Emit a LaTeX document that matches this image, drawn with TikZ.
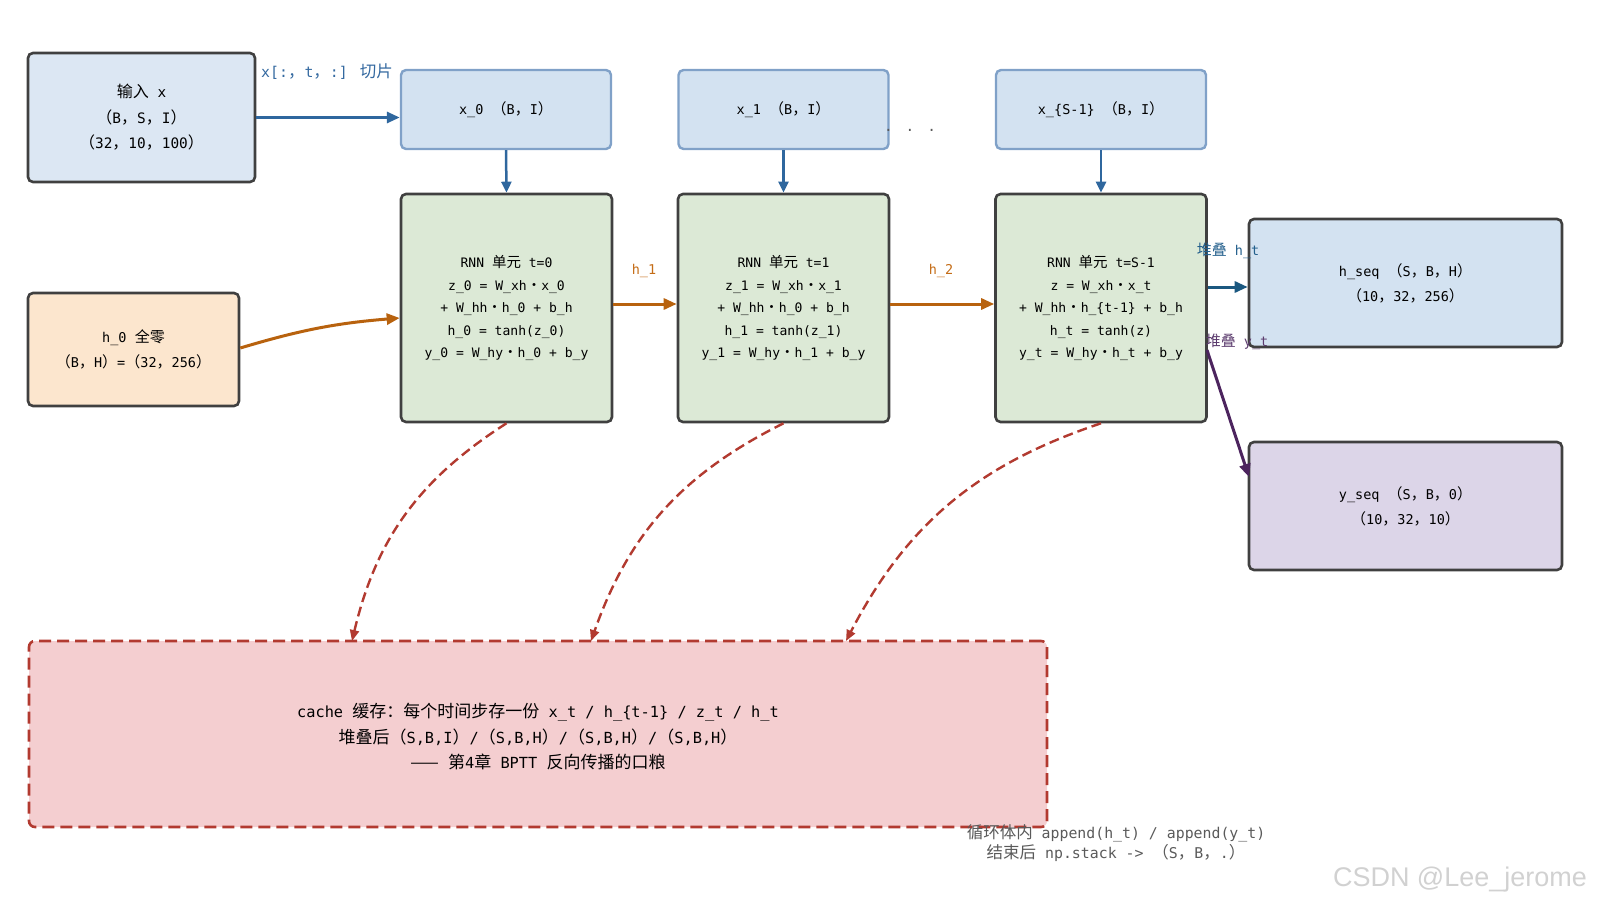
\documentclass[tikz,border=0pt]{standalone}
\usepackage{fontspec}
\setmainfont{DejaVu Sans Mono}[Scale=0.9]
\newfontfamily\cjkf{Noto Sans CJK SC}
\newfontfamily\wmfont{Liberation Sans}
\newcommand\cj[1]{{\cjkf #1}}
\newcommand\FLp{\cj{（}}
\newcommand\FRp{\cj{）}}
\newcommand\FCm{\cj{，}}
\newcommand\Dotm{\cj{・}}
\usetikzlibrary{arrows.meta}
\definecolor{inpfill}{RGB}{220,231,243}
\definecolor{xfill}{RGB}{211,226,241}
\definecolor{xdraw}{RGB}{128,161,200}
\definecolor{rnnfill}{RGB}{220,233,214}
\definecolor{hzfill}{RGB}{252,230,206}
\definecolor{hseqfill}{RGB}{211,226,241}
\definecolor{yseqfill}{RGB}{220,213,232}
\definecolor{cachefill}{RGB}{244,206,208}
\definecolor{cachedraw}{RGB}{178,58,48}
\definecolor{darkbd}{RGB}{64,64,64}
\definecolor{blueA}{RGB}{47,103,158}
\definecolor{orangeA}{RGB}{184,98,14}
\definecolor{navyA}{RGB}{27,88,128}
\definecolor{purpA}{RGB}{76,36,94}
\definecolor{bluetxt}{RGB}{52,105,160}
\definecolor{orangetxt}{RGB}{196,108,22}
\definecolor{navytxt}{RGB}{35,95,140}
\definecolor{purptxt}{RGB}{92,60,110}
\definecolor{notegray}{RGB}{90,90,90}
\begin{document}
\begin{tikzpicture}[x=1pt,y=-1pt,
  box/.style={rectangle, rounded corners=5pt, line width=2.6pt, draw=darkbd, align=center, inner sep=0pt},
  xbox/.style={rectangle, rounded corners=5pt, line width=2.4pt, draw=xdraw, fill=xfill, align=center, inner sep=0pt, minimum width=210pt, minimum height=79pt, font=\fontsize{15}{20}\selectfont},
  rnnbox/.style={box, fill=rnnfill, minimum width=211pt, minimum height=228pt, font=\fontsize{14.5}{22.5}\selectfont},
  arr/.style={line width=3pt, -{Triangle[length=13pt,width=11pt]}},
  varr/.style={line width=2.5pt, -{Triangle[length=11pt,width=10pt]}},
  dasharr/.style={line width=2.4pt, draw=cachedraw, dash pattern=on 10pt off 5pt, -{Triangle[length=11pt,width=9pt]}},
  lbl/.style={font=\fontsize{15}{16}\selectfont, inner sep=0pt}
]
\useasboundingbox (0,0) rectangle (1599,907);

% input
\node[box, fill=inpfill, minimum width=227pt, minimum height=129pt, font=\fontsize{16}{25.5}\selectfont] (inp) at (141.5,117.5)
  {\cj{输入} x\\\FLp B\FCm S\FCm I\FRp\\\FLp 32\FCm 10\FCm 100\FRp};

% x slices
\node[xbox] (x0) at (506,109.5) {x\_0 \FLp B\FCm I\FRp};
\node[xbox] (x1) at (783.5,109.5) {x\_1 \FLp B\FCm I\FRp};
\node[xbox] (xs) at (1101,109.5) {x\_\{S-1\} \FLp B\FCm I\FRp};

% rnn cells
\node[rnnbox] (r0) at (506.5,308)
  {RNN \cj{单元} t=0\\z\_0 = W\_xh\Dotm x\_0\\+ W\_hh\Dotm h\_0 + b\_h\\h\_0 = tanh(z\_0)\\y\_0 = W\_hy\Dotm h\_0 + b\_y};
\node[rnnbox] (r1) at (783.5,308)
  {RNN \cj{单元} t=1\\z\_1 = W\_xh\Dotm x\_1\\+ W\_hh\Dotm h\_0 + b\_h\\h\_1 = tanh(z\_1)\\y\_1 = W\_hy\Dotm h\_1 + b\_y};
\node[rnnbox] (rs) at (1101,308)
  {RNN \cj{单元} t=S-1\\z = W\_xh\Dotm x\_t\\+ W\_hh\Dotm h\_\{t-1\} + b\_h\\h\_t = tanh(z)\\y\_t = W\_hy\Dotm h\_t + b\_y};

% h0
\node[box, fill=hzfill, minimum width=211pt, minimum height=113pt, font=\fontsize{15}{25}\selectfont] (h0) at (133.5,349.5)
  {h\_0 \cj{全零}\\\FLp B\FCm H\FRp=\FLp 32\FCm 256\FRp};

% outputs
\node[box, fill=hseqfill, minimum width=313pt, minimum height=128pt, font=\fontsize{15}{25}\selectfont] (hseq) at (1405.5,283)
  {h\_seq \FLp S\FCm B\FCm H\FRp\\\FLp 10\FCm 32\FCm 256\FRp};
\node[box, fill=yseqfill, minimum width=313pt, minimum height=128pt, font=\fontsize{15}{25}\selectfont] (yseq) at (1405.5,506)
  {y\_seq \FLp S\FCm B\FCm 0\FRp\\\FLp 10\FCm 32\FCm 10\FRp};

% cache
\node[rectangle, rounded corners=6pt, line width=2.6pt, draw=cachedraw, dash pattern=on 12pt off 6pt, fill=cachefill,
  minimum width=1018pt, minimum height=186pt] (cache) at (538,734) {};
\node[align=center, font=\fontsize{17}{25.5}\selectfont, inner sep=0pt] (cachetxt) at (538,737)
  {cache \cj{缓存：每个时间步存一份} x\_t / h\_\{t-1\} / z\_t / h\_t\\
   \cj{堆叠后}\FLp S,B,I\FRp/\FLp S,B,H\FRp/\FLp S,B,H\FRp/\FLp S,B,H\FRp\\
   \cj{——} \cj{第}4\cj{章} BPTT \cj{反向传播的口粮}};

% dots
\node[font=\fontsize{16}{16}\selectfont, text=notegray, anchor=base] (dots) at (910,131) {.\hspace{13pt}.\hspace{13pt}.};

% connectors
\draw[arr, draw=blueA] (inp.east) -- (inp.east -| x0.west);
\node[lbl, text=bluetxt, anchor=west, font=\fontsize{16.5}{18}\selectfont] (slbl) at (261,72) {x[:\FCm t\FCm :] \cj{切片}};

\draw[varr, draw=blueA] (x0.south) -- (r0.north);
\draw[varr, draw=blueA] (x1.south) -- (r1.north);
\draw[varr, draw=blueA] (xs.south) -- (rs.north);

\draw[arr, draw=orangeA] (r0.east |- 0,304) -- (r1.west |- 0,304);
\draw[arr, draw=orangeA] (r1.east |- 0,304) -- (rs.west |- 0,304);
\node[lbl, text=orangetxt] (h1l) at (644,271) {h\_1};
\node[lbl, text=orangetxt] (h2l) at (941,271) {h\_2};

\draw[arr, draw=orangeA] (h0.east |- 0,348) to[bend left=6] (r0.west |- 0,318);

\draw[arr, draw=navyA] (rs.east |- 0,287) -- (hseq.west |- 0,287);
\node[lbl, text=navytxt] (sh) at (1228,251) {\cj{堆叠} h\_t};
\coordinate (ys0) at (1207,350);
\coordinate (ys1) at (1249,477);
\draw[arr, draw=purpA] (ys0) -- (ys1);
\node[lbl, text=purptxt] (sy) at (1237,342) {\cj{堆叠} y\_t};

\coordinate (c0) at (352,641);
\coordinate (c1) at (591,641);
\coordinate (c2) at (846,641);
\draw[dasharr] (r0.south) to[bend right=22] (c0);
\draw[dasharr] (r1.south) to[bend right=22] (c1);
\draw[dasharr] (rs.south) to[bend right=22] (c2);

% note
\node[align=center, font=\fontsize{16.5}{20}\selectfont, text=notegray, inner sep=0pt] (note) at (1116,843)
  {\cj{循环体内} append(h\_t) / append(y\_t)\\\cj{结束后} np.stack -> \FLp S\FCm B\FCm .\FRp};

% watermark
\node[font=\wmfont\fontsize{27}{30}\selectfont, text=black!18, inner sep=0pt] (wm) at (1460,880) {CSDN @Lee\_jerome};
\end{tikzpicture}
\end{document}
